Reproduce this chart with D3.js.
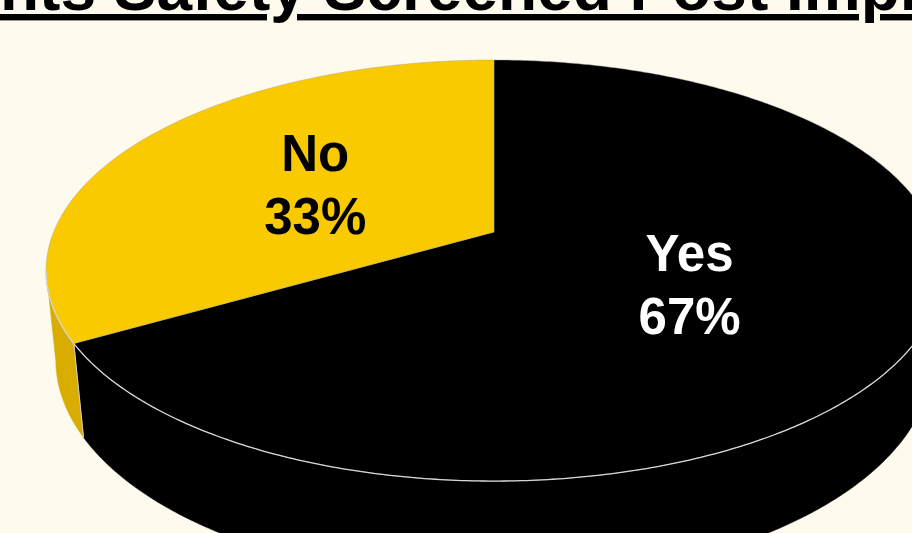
<!DOCTYPE html>
<html>
<head>
<meta charset="utf-8">
<script src="https://cdn.jsdelivr.net/npm/d3@7"></script>
<style>
  html, body { margin: 0; padding: 0; background: #FFFAEE; overflow: hidden; }
  svg { display: block; font-family: "Liberation Sans", Arial, sans-serif; }
</style>
</head>
<body>
<div id="chart"></div>
<script>
// Data
const categories = ["Yes", "No"];
const values = [66.7, 33.3];
const topColors = ["#000000", "#FACA00"];
const sideColors = ["#000000", "#D8AD00"];
const title = "Patients Safety Screened Post Implementation";

const width = 912, height = 533;

// 3D pie projection (perspective, viewed from above)
const cx = 494, cy = 232;          // projected centre of the top face
const rx = 440.4, ry = 203.5;      // horizontal / depth radii
const persp = 0.183;               // far side shrinks
const depthW = -0.0215, depthY = -89.8; // thickness of the pie

function project(angle, r, down) {
  const X = r * Math.sin(angle), Z = r * Math.cos(angle);
  const w = 1 + persp * Z - depthW * down;
  return [cx + rx * X / w, cy - (ry * Z + depthY * down) / w];
}

const total = d3.sum(values);
const data = categories.map((c, i) => ({name: c, value: values[i], i: i}));
const pie = d3.pie().sort(null).value(d => d.value);
const arcs = pie(data);

const svg = d3.select("#chart").append("svg")
    .attr("width", width)
    .attr("height", height);

svg.append("rect")
    .attr("width", width).attr("height", height)
    .attr("fill", "#FFFAEE");

const line = d3.line();

function samples(a0, a1) {
  const n = Math.max(2, Math.ceil(Math.abs(a1 - a0) / 0.01));
  return d3.range(n + 1).map(k => a0 + (a1 - a0) * k / n);
}

// visible part of the outer wall (front side)
const vis0 = Math.acos(-persp), vis1 = 2 * Math.PI - vis0;

const g = svg.append("g");

// side walls
arcs.forEach(a => {
  const s = Math.max(a.startAngle, vis0), e = Math.min(a.endAngle, vis1);
  if (e <= s) return;
  const angs = samples(s, e);
  const pts = angs.map(t => project(t, 1, 0))
    .concat(angs.slice().reverse().map(t => project(t, 1, 1)));
  g.append("path")
    .attr("d", line(pts) + "Z")
    .attr("fill", sideColors[a.data.i])
    .attr("stroke", sideColors[a.data.i])
    .attr("stroke-width", 0.5);
});

// vertical edges between walls
arcs.forEach(a => {
  const t = a.startAngle;
  if (t > vis0 && t < vis1) {
    g.append("path")
      .attr("d", line([project(t, 1, 0), project(t, 1, 1)]))
      .attr("stroke", "#cfcfcf").attr("stroke-width", 1).attr("fill", "none");
  }
});

// top faces
arcs.forEach(a => {
  const pts = [project(0, 0, 0)].concat(samples(a.startAngle, a.endAngle).map(t => project(t, 1, 0)));
  g.append("path")
    .attr("d", line(pts) + "Z")
    .attr("fill", topColors[a.data.i])
    .attr("stroke", "rgba(160,160,160,0.7)")
    .attr("stroke-width", 0.6);
});

// front rim highlight
g.append("path")
  .attr("d", line(samples(vis0, vis1).map(t => project(t, 1, 0))))
  .attr("fill", "none")
  .attr("stroke", "#d6d6d6")
  .attr("stroke-width", 1.3);

// labels
const labelR = 0.49;
const fmt = d3.format(".0%");
arcs.forEach(a => {
  const mid = (a.startAngle + a.endAngle) / 2;
  const [lx, ly] = project(mid, labelR, 0);
  const col = a.data.i === 0 ? "#ffffff" : "#000000";
  const t = g.append("text")
    .attr("text-anchor", "middle")
    .attr("font-weight", "bold")
    .attr("font-size", 51)
    .attr("fill", col);
  t.append("tspan").attr("x", lx).attr("y", ly - 13).text(a.data.name);
  t.append("tspan").attr("x", lx).attr("y", ly + 50).text(fmt(a.data.value / total));
});

// title (cropped at top of the frame)
svg.append("text")
    .attr("x", 553)
    .attr("y", 10)
    .attr("text-anchor", "middle")
    .attr("font-weight", "bold")
    .attr("font-size", 64)
    .attr("fill", "#000")
    .style("text-decoration", "underline")
    .text(title);
</script>
</body>
</html>
